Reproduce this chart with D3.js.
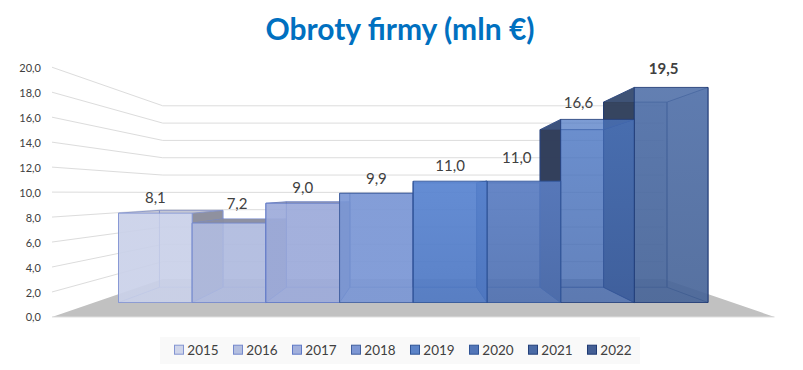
<!DOCTYPE html>
<html><head><meta charset="utf-8">
<script src="https://cdn.jsdelivr.net/npm/d3@7"></script>
<style>html,body{margin:0;padding:0;background:#fff;overflow:hidden}svg{display:block}text{font-family:Lato,"Open Sans",sans-serif}</style>
</head><body>
<svg id="c" width="803" height="370"><defs id="d"></defs></svg>
<script>
const years = ["2015","2016","2017","2018","2019","2020","2021","2022"];
const values = [8.1,7.2,9.0,9.9,11.0,11.0,16.6,19.5];
const ticks = [0,2,4,6,8,10,12,14,16,18,20];
const frontColors = ["#cad1e9","#b0bbdf","#9dabda","#7b97d5","#5a85d1","#5a7dc2","#4d78c4","#4f6fa8"];
const frontBottom = ["#cad1e9","#b0bbdf","#9dabda","#7b97d5","#4f78c2","#4f70b0","#3f62a6","#466396"];
const frontAlpha  = [0.86,0.86,0.86,0.86,0.86,0.84,0.62,0.84];
const sideColors  = ["#8c8d9c","#8a8d9f","#86899f","#5f78b0","#3f66ad","#38568f","#2f3c58","#33415c"];
const edgeColors  = ["#8394d2","#7488cc","#5f78c6","#42609f","#2f5496","#2f5496","#24407a","#1f3a73"];
const legendColors= ["#cfd5ea","#b4bfe0","#a2b0dc","#7d97d4","#5b83c8","#5376b8","#4a6ba6","#445f95"];
const topAlpha    = [0.35,0.95,0.7,0.8,0.3,0.3,0.3,0.3];
const labelDx = [0,8,0,0,0,-7,-19,-7.5];
const labelDy = [-15,-19,-15,-15,-15,-23,-17,-19];

const svg = d3.select("#c");
const vx = 413.25, vy = 193;
const sBarFront = 1, sBarBack = 0.861, sWallFront = 1.132, sWallBack = 0.785;
const x = d3.scaleBand().domain(years).range([118.5,708]).padding(0);
const y = d3.scaleLinear().domain([0,20]).range([302.5,81.9]);
const px = (v,s)=>vx+(v-vx)*s, py=(v,s)=>vy+(y(v)-vy)*s;
const floorXL = 52, floorXR = 2*vx-52;
const poly = pts=>"M"+pts.map(p=>p.join(",")).join("L")+"Z";

// front-face gradients
const defs=d3.select("#d");
years.forEach((yr,i)=>{
  const g=defs.append("linearGradient").attr("id","g"+yr).attr("x1",0).attr("x2",0).attr("y1",0).attr("y2",1);
  g.append("stop").attr("offset","0%").attr("stop-color",frontColors[i]);
  g.append("stop").attr("offset","100%").attr("stop-color",frontBottom[i]);
});

svg.append("text").attr("x",400).attr("y",39.5).attr("text-anchor","middle")
  .attr("font-size",30).attr("font-weight",700).attr("fill","#0070c0").text("Obroty firmy (mln €)");

const fl=[[floorXL,py(0,sWallFront)],[floorXR,py(0,sWallFront)],[px(floorXR,sWallBack/sWallFront),py(0,sWallBack)],[px(floorXL,sWallBack/sWallFront),py(0,sWallBack)]];
svg.append("path").attr("d",poly(fl)).attr("fill","#c1c1c1");

const wallBackL=fl[3][0], wallBackR=fl[2][0];
const gridLine=d3.line();
svg.append("g").selectAll("path").data(ticks).join("path")
  .attr("d",d=>d===0
    ? gridLine([[floorXL,py(0,sWallFront)],[floorXR,py(0,sWallFront)]])
    : gridLine([[floorXL,py(d,sWallFront)],[wallBackL,py(d,sWallBack)],[wallBackR,py(d,sWallBack)]]))
  .attr("fill","none").attr("stroke","#dcdcdc").attr("stroke-width",1);

const wall=d3.scaleLinear().domain([0,20]).range([py(0,sWallFront),py(20,sWallFront)]);
const ax=svg.append("g").attr("transform","translate(44,0.5)")
  .call(d3.axisLeft(wall).tickValues(ticks).tickSize(0).tickPadding(3).tickFormat(d=>d.toFixed(1).replace(".",",")));
ax.select(".domain").remove();
ax.selectAll("text").attr("font-size",11).attr("fill","#404040").style("font-family","Lato,'Open Sans',sans-serif");

const order=[0,1,2,3,7,6,5,4];
const barsG=svg.append("g");
order.forEach(i=>{
  const x0=x(years[i]), x1=x0+x.bandwidth(), v=values[i];
  const g=barsG.append("g");
  const P=(X,V,S)=>[px(X,S),py(V,S)];
  const F=sBarFront,B=sBarBack;
  const edge=edgeColors[i], fc=frontColors[i], sc=sideColors[i];
  const face=(pts,fill,alpha,stroke)=>g.append("path").attr("d",poly(pts)).attr("fill",fill).attr("fill-opacity",alpha)
    .attr("stroke",stroke?edge:"none").attr("stroke-width",stroke?1:0).attr("stroke-opacity",0.85);
  const back=[P(x0,0,B),P(x1,0,B),P(x1,v,B),P(x0,v,B)];
  const floor=[P(x0,0,F),P(x1,0,F),P(x1,0,B),P(x0,0,B)];
  const left=[P(x0,0,F),P(x0,v,F),P(x0,v,B),P(x0,0,B)];
  const right=[P(x1,0,F),P(x1,v,F),P(x1,v,B),P(x1,0,B)];
  const top=[P(x0,v,F),P(x1,v,F),P(x1,v,B),P(x0,v,B)];
  const front=[P(x0,0,F),P(x1,0,F),P(x1,v,F),P(x0,v,F)];
  const exposedRight=(x0+x1)/2<vx;
  face(back,fc,0.55,true);
  face(floor,fc,0.45,false);
  face(exposedRight?left:right,fc,0.45,true);
  face(exposedRight?right:left,sc,0.97,true);
  const under=v>(y.invert(vy));
  face(top,under?fc:sc,topAlpha[i],false);
  face(front,`url(#g${years[i]})`,frontAlpha[i],true);
});

svg.append("g").selectAll("text").data(values).join("text")
  .attr("x",(d,i)=>x(years[i])+x.bandwidth()/2+labelDx[i])
  .attr("y",(d,i)=>y(d)+labelDy[i])
  .attr("dy","0.35em").attr("text-anchor","middle").attr("font-size",15)
  .attr("fill","#404040").attr("font-weight",(d,i)=>i===7?700:400)
  .text(d=>d.toFixed(1).replace(".",","));

const lg=svg.append("g");
lg.append("rect").attr("x",160).attr("y",337).attr("width",480).attr("height",27).attr("fill","#f9f9f9");
const lx=d3.scalePoint().domain(years).range([174.3,174.3+59*7]);
const it=lg.selectAll("g").data(years).join("g").attr("transform",d=>`translate(${lx(d)},0)`);
it.append("rect").attr("x",0.2).attr("y",345.2).attr("width",9).attr("height",9)
  .attr("fill",(d,i)=>legendColors[i]).attr("stroke",(d,i)=>edgeColors[i]);
it.append("text").attr("x",13).attr("y",350).attr("dy","0.35em").attr("font-size",13.5).attr("fill","#404040").text(d=>d);
</script>
</body></html>
